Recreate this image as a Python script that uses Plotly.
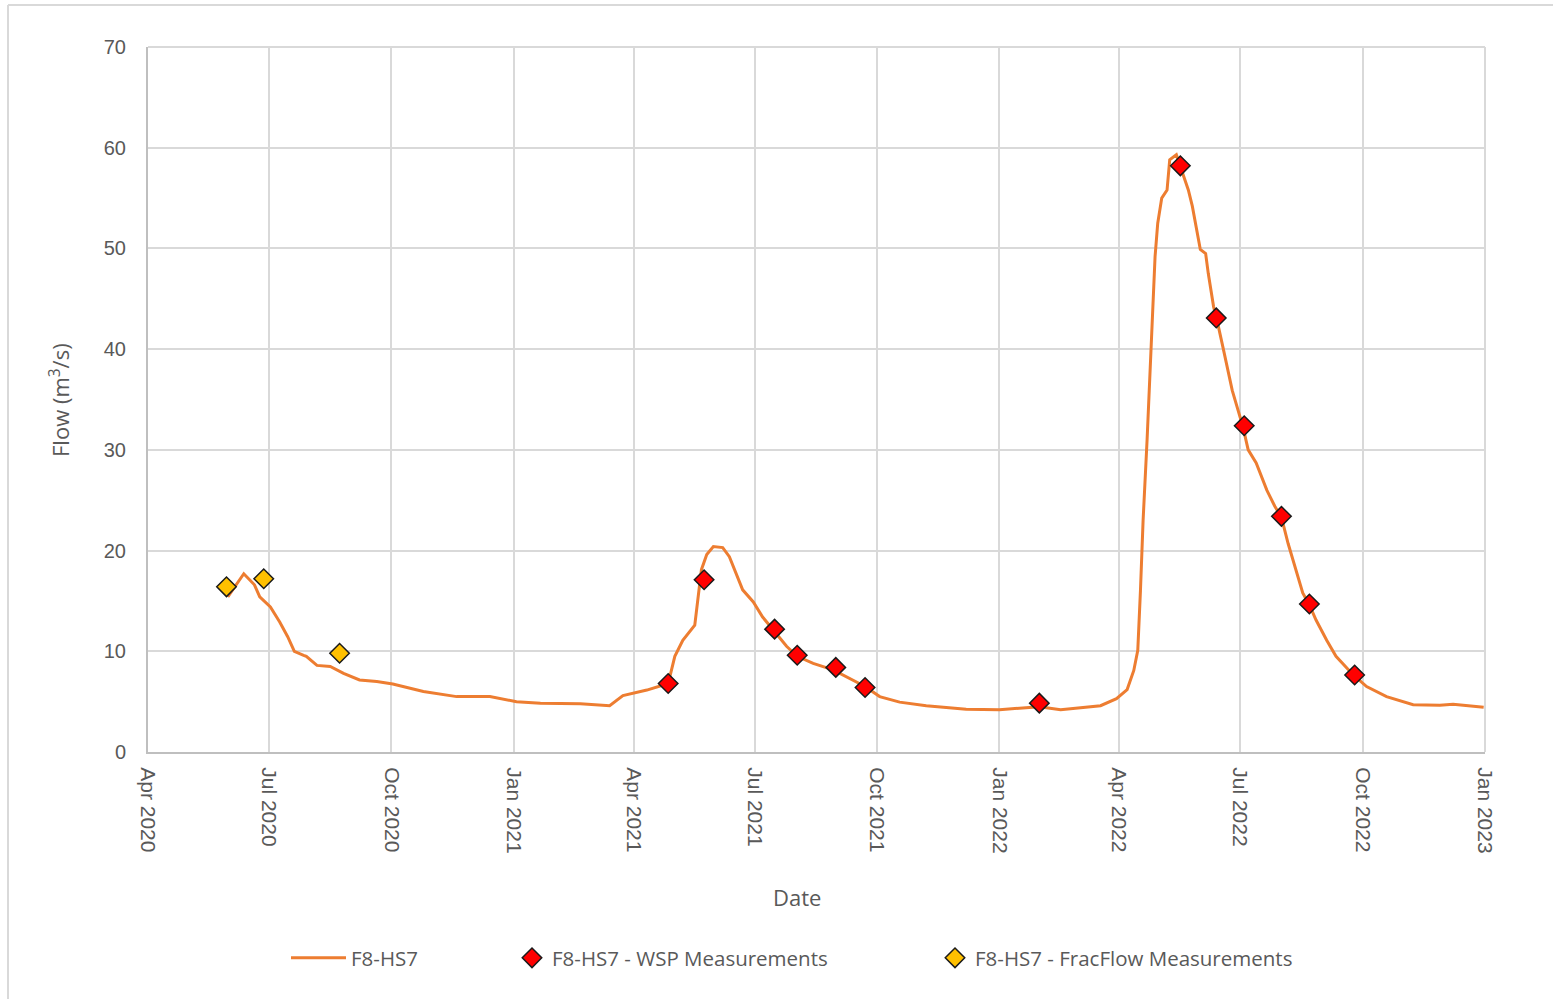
import plotly.graph_objects as go

# ---- data ----
flow_dates = [
    "2020-05-31", "2020-06-12", "2020-06-20", "2020-06-24", "2020-07-02", "2020-07-09",
    "2020-07-15", "2020-07-20", "2020-07-27", "2020-07-29", "2020-08-06", "2020-08-16",
    "2020-08-26", "2020-09-07", "2020-09-20", "2020-10-02", "2020-10-25", "2020-11-19",
    "2020-12-14", "2021-01-03", "2021-01-21", "2021-02-20", "2021-03-14", "2021-03-24",
    "2021-04-11", "2021-04-27", "2021-05-02", "2021-05-08", "2021-05-17", "2021-05-20",
    "2021-05-22", "2021-05-26", "2021-05-31", "2021-06-07", "2021-06-12", "2021-06-22",
    "2021-06-30", "2021-07-07", "2021-07-15", "2021-07-25", "2021-08-02", "2021-08-14",
    "2021-08-29", "2021-09-22", "2021-10-03", "2021-10-18", "2021-11-07", "2021-12-07",
    "2022-01-01", "2022-01-31", "2022-02-16", "2022-03-18", "2022-03-30", "2022-04-07",
    "2022-04-12", "2022-04-15", "2022-04-17", "2022-04-19", "2022-04-22", "2022-04-25",
    "2022-04-28", "2022-04-30", "2022-05-03", "2022-05-07", "2022-05-09", "2022-05-14",
    "2022-05-17", "2022-05-23", "2022-05-26", "2022-05-29", "2022-06-01", "2022-06-05",
    "2022-06-07", "2022-06-11", "2022-06-13", "2022-06-18", "2022-06-25", "2022-07-03",
    "2022-07-07", "2022-07-13", "2022-07-21", "2022-07-27", "2022-08-01", "2022-08-06",
    "2022-08-11", "2022-08-17", "2022-08-22", "2022-08-27", "2022-09-04", "2022-09-11",
    "2022-09-24", "2022-10-04", "2022-10-19", "2022-11-08", "2022-11-28", "2022-12-08",
    "2022-12-31",
]
flow_values = [
    15.4, 17.7, 16.6, 15.4, 14.4, 12.9,
    11.45, 10.0, 9.6, 9.5, 8.6, 8.5,
    7.8, 7.15, 7.0, 6.75, 6.0, 5.5,
    5.5, 5.0, 4.85, 4.8, 4.6, 5.6,
    6.15, 6.8, 9.5, 11.1, 12.6, 16.1,
    18.1, 19.6, 20.4, 20.3, 19.4, 16.1,
    14.9, 13.4, 12.1, 10.5, 9.5, 8.8,
    8.15, 6.5, 5.5, 4.95, 4.6, 4.25,
    4.2, 4.5, 4.2, 4.6, 5.3, 6.2,
    8.1, 10.1, 16.0, 23.0, 31.0, 40.9,
    49.2, 52.5, 55.0, 55.8, 58.8, 59.3,
    58.1, 55.8, 54.2, 52.2, 49.9, 49.5,
    47.5, 44.2, 43.2, 40.2, 35.9, 32.3,
    30.0, 28.7, 26.0, 24.4, 23.3, 20.7,
    18.4, 15.8, 14.6, 13.1, 11.1, 9.5,
    7.65, 6.5, 5.5, 4.7, 4.65, 4.75,
    4.45,
]

wsp_dates = [
    "2021-04-27", "2021-05-24", "2021-07-16", "2021-08-02", "2021-08-31", "2021-09-22",
    "2022-01-31", "2022-05-17", "2022-06-13", "2022-07-04", "2022-08-01", "2022-08-22",
    "2022-09-25",
]
wsp_values = [6.8, 17.1, 12.2, 9.6, 8.4, 6.4, 4.85, 58.2, 43.1, 32.4, 23.4, 14.7, 7.65]

frac_dates = ["2020-05-30", "2020-06-27", "2020-08-23"]
frac_values = [16.4, 17.2, 9.8]

series_names = ["F8-HS7", "F8-HS7 - WSP Measurements", "F8-HS7 - FracFlow Measurements"]
y_ticks = [0, 10, 20, 30, 40, 50, 60, 70]

# ---- figure ----
W, H = 1553, 999
L, R, T, B = 148, 1485, 47, 752
pw, ph = R - L, B - T

def px_x(p):
    return (p - L) / pw

def px_y(p):
    return (B - p) / ph

tick_col = "#595959"
grid_col = "#D9D9D9"
font_fam = "Liberation Sans, Arial, sans-serif"
title_fam = "Open Sans, Liberation Sans, sans-serif"

fig = go.Figure()
fig.add_trace(go.Scatter(
    x=flow_dates, y=flow_values, mode="lines", name=series_names[0],
    line=dict(color="#ED7D31", width=3), legend="legend", showlegend=True,
))
fig.add_trace(go.Scatter(
    x=wsp_dates, y=wsp_values, mode="markers", name=series_names[1],
    marker=dict(symbol="diamond", size=15, color="#FF0000", line=dict(color="#1a1a1a", width=1.5)),
    legend="legend2", showlegend=True,
))
fig.add_trace(go.Scatter(
    x=frac_dates, y=frac_values, mode="markers", name=series_names[2],
    marker=dict(symbol="diamond", size=15, color="#FFC000", line=dict(color="#1a1a1a", width=1.5)),
    legend="legend3", showlegend=True,
))

leg_common = dict(orientation="h", yanchor="middle", xanchor="left", y=px_y(958),
                  font=dict(family=title_fam, size=20.5, color=tick_col),
                  bgcolor="rgba(0,0,0,0)")

fig.update_layout(
    width=W, height=H,
    showlegend=True,
    margin=dict(l=L, r=W - R, t=T, b=H - B, autoexpand=False),
    paper_bgcolor="white", plot_bgcolor="white",
    legend=dict(x=px_x(286), itemwidth=55, **leg_common),
    legend2=dict(x=px_x(512), **leg_common),
    legend3=dict(x=px_x(935), **leg_common),
    xaxis=dict(
        type="date", range=["2020-04-01", "2023-01-01"],
        tick0="2020-04-01", dtick="M3", tickformat="%b %Y",
        tickangle=90, ticks="", ticklabelstandoff=9,
        tickfont=dict(family=font_fam, size=21, color=tick_col),
        showgrid=True, gridcolor=grid_col, gridwidth=2,
        showline=True, linecolor="#BFBFBF", linewidth=2,
        zeroline=False,
    ),
    yaxis=dict(
        range=[0, 70], tickvals=y_ticks, ticks="", ticklabelstandoff=16,
        tickfont=dict(family=font_fam, size=20, color=tick_col),
        showgrid=True, gridcolor=grid_col, gridwidth=2,
        showline=True, linecolor="#BFBFBF", linewidth=2,
        zeroline=False,
    ),
    annotations=[
        dict(text="Date", xref="paper", yref="paper", x=px_x(797), y=px_y(897),
             showarrow=False, xanchor="center", yanchor="middle",
             font=dict(family=title_fam, size=22, color=tick_col)),
        dict(text="Flow (m<sup>3</sup>/s)", xref="paper", yref="paper", x=px_x(60), y=px_y(400),
             showarrow=False, xanchor="center", yanchor="middle", textangle=-90,
             font=dict(family=title_fam, size=22, color=tick_col)),
    ],
    shapes=[
        dict(type="line", xref="paper", yref="paper", x0=px_x(8), x1=px_x(1560),
             y0=px_y(5), y1=px_y(5), line=dict(color=grid_col, width=2)),
        dict(type="line", xref="paper", yref="paper", x0=px_x(8), x1=px_x(8),
             y0=px_y(5), y1=px_y(1005), line=dict(color=grid_col, width=2)),
        dict(type="line", xref="paper", yref="paper", x0=1, x1=1, y0=0, y1=1,
             line=dict(color=grid_col, width=2), layer="below"),
        dict(type="line", xref="paper", yref="paper", x0=0, x1=1, y0=1, y1=1,
             line=dict(color=grid_col, width=2), layer="below"),
    ],
)

fig.write_html(
    "out.html",
    config={"displayModeBar": False},
    post_script="document.body.style.margin='0';document.body.style.overflow='hidden';",
)
